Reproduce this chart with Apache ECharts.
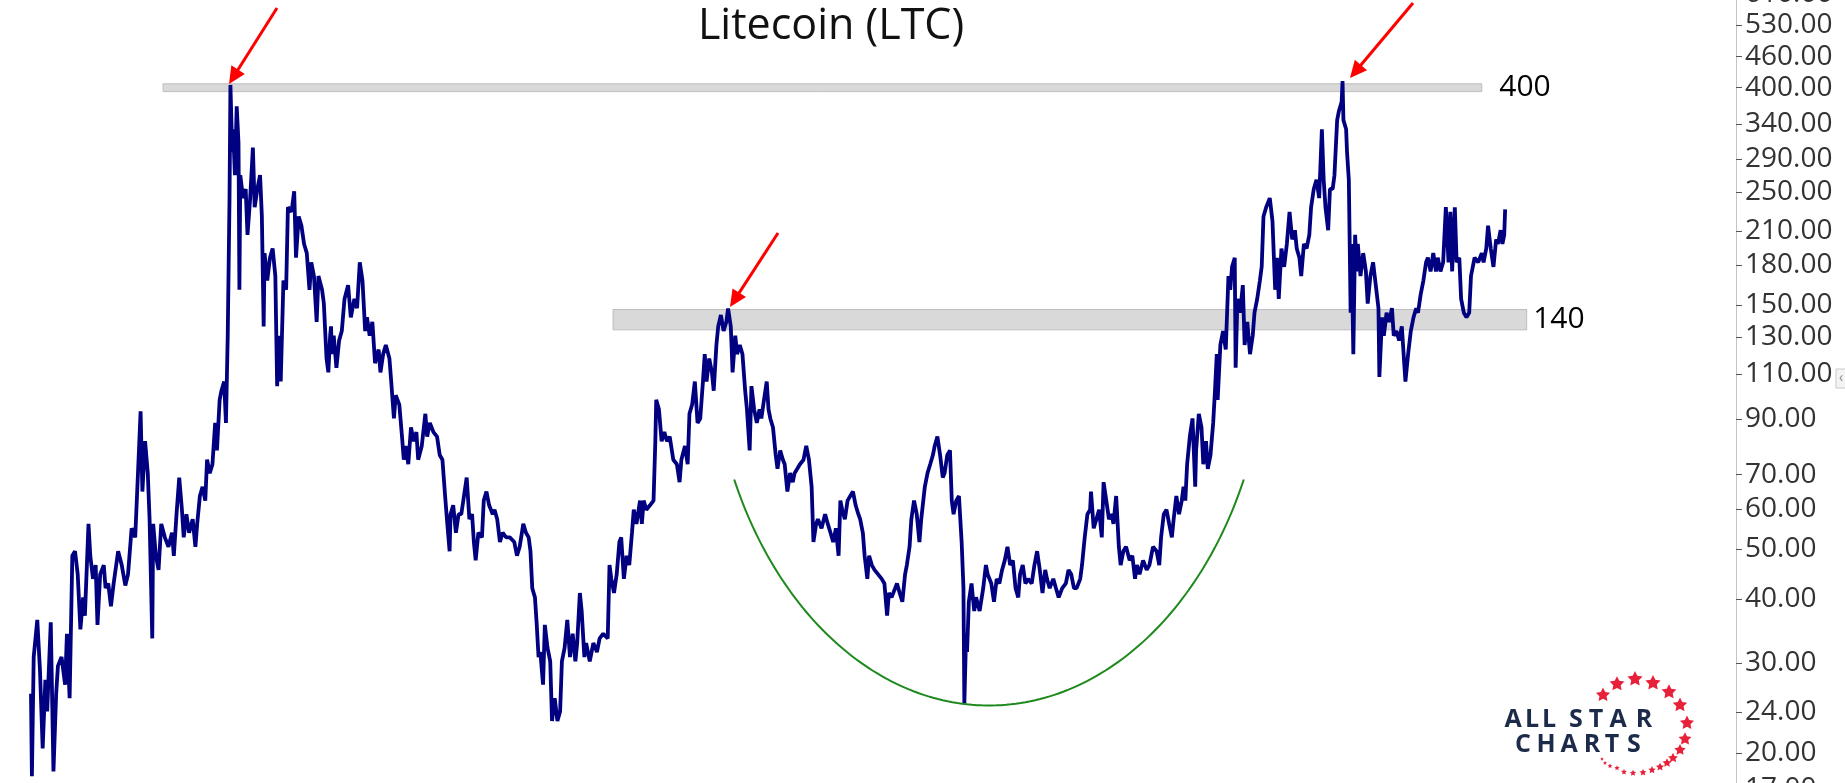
<!DOCTYPE html>
<html>
<head>
<meta charset="utf-8">
<script src="https://cdn.jsdelivr.net/npm/echarts@6/dist/echarts.min.js"></script>
<style>
  html, body { margin: 0; padding: 0; background: #fff; overflow: hidden; }
  /* chart is a bit taller than the window so the edge tick labels get cut like in the source */
  #main { position: absolute; left: 0; top: -20px; width: 1845px; height: 823px; }
</style>
</head>
<body>
<div id="main"></div>
<script>
// price history, [day since start, close]
var rally2017 = [[0,26.1],[1,18.0],[3,30.8],[7,36.4],[10,29.0],[13,20.4],[16,27.8],[18,24.1],[22,36.0],[25,18.4],[28,26.1],[30,29.6],[34,30.8],[38,27.2],[40,34.2],[43,25.6],[46,48.6],[49,49.6],[52,44.7],[55,34.9],[58,40.3],[60,37.1],[64,56.1],[66,48.6],[69,43.8],[72,46.6],[74,35.6],[77,44.7],[81,46.6],[83,42.0],[86,42.9],[89,38.7],[92,42.9],[97,49.6],[101,46.6],[105,42.5],[108,44.7],[112,55.0],[116,52.8],[118,63.6],[122,93.1],[124,64.9],[127,81.4],[130,70.5],[132,57.3],[135,33.5],[136,56.1],[139,48.6],[142,45.6],[145,56.1],[149,52.8],[153,50.6],[157,53.9],[159,48.6],[162,58.6],[165,69.1],[168,59.8],[170,52.8],[173,58.6],[176,53.9],[180,57.3],[183,50.6],[185,56.1],[188,63.6],[191,66.3],[194,62.3],[196,74.9],[199,70.5],[202,73.4],[205,88.4],[207,78.1],[210,98.1],[212,102.2],[215,106.5],[217,88.4],[219,130.9],[220,178.5],[221,243.3],[222,405],[224,299.1],[225,331.6],[227,269.7],[229,367.7],[231,311.7],[232,161.0],[233,269.7],[236,243.3],[239,253.5],[241,206.2],[244,243.3],[247,305.3],[249,233.5],[252,253.5],[255,269.7],[257,224.0],[259,136.5],[260,189.9],[263,167.8],[266,186.0],[269,193.9],[272,171.3],[274,104.3],[276,130.9],[278,106.5],[281,167.8],[284,161.0],[286,233.5],[290,228.7],[293,250.9],[295,186.0],[298,224.0],[301,214.9],[304,197.9],[307,189.9],[310,161.0],[312,182.2],[315,171.3],[318,139.3],[320,171.3],[324,161.0],[326,151.3],[329,118.1],[331,111.0],[333,130.9]];

var bear2018 = [[334,136.5],[335,120.5],[337,130.9],[340,113.3],[343,128.2],[346,133.7],[349,154.5],[353,164.4],[356,142.2],[360,154.5],[363,148.2],[366,182.2],[369,167.8],[372,133.7],[374,142.2],[377,130.9],[380,139.3],[383,115.7],[387,123.0],[389,111.0],[392,120.5],[395,125.6],[399,118.1],[401,106.5],[404,90.2],[406,100.1],[410,96.0],[413,83.1],[415,74.9],[417,79.7],[420,73.4],[423,86.6],[426,81.4],[429,84.8],[431,74.9],[435,79.7],[439,92.1],[441,83.1],[444,88.4],[448,84.8],[452,83.1],[455,76.5],[458,74.9],[461,63.6],[463,57.3],[466,49.6],[467,58.6],[470,61.0],[473,53.9],[476,58.6],[479,58.6],[482,63.6],[485,69.1],[488,57.3],[491,58.6],[493,51.7],[495,47.6],[498,53.9],[502,52.8],[504,62.3],[507,64.9],[510,61.0],[514,58.6],[516,59.8],[519,57.3],[522,51.7],[525,53.9],[529,52.8],[533,52.8],[538,51.7],[541,48.6],[544,50.6],[548,56.1],[551,53.9],[554,52.8],[556,49.6],[558,42.0],[561,40.3],[563,35.6],[565,30.8],[567,31.5],[570,27.2],[572,35.6],[575,32.1],[578,30.2],[580,23.1],[583,25.6],[586,23.1],[589,24.1],[591,30.2],[594,32.1],[597,36.4],[600,30.8],[603,34.2],[606,30.2],[608,32.8],[611,41.1],[613,37.9],[616,30.8],[618,32.8],[622,30.2],[626,32.8],[630,31.5],[633,33.5],[637,34.2],[642,33.5],[644,46.6],[646,43.8],[649,41.1],[652,44.7],[655,51.7],[657,52.8],[660,43.8],[663,48.6],[666,46.6],[669,53.9],[671,59.8],[674,56.1],[678,62.3]];

var bounce2019 = [[680,56.1],[682,62.3],[685,59.8],[689,61.0],[693,62.3],[695,81.4],[696,98.1],[699,94.0],[702,81.4],[705,84.8],[708,81.4],[711,83.1],[715,74.9],[719,73.4],[722,67.7],[724,74.9],[728,79.7],[731,73.4],[733,92.1],[736,96.0],[739,106.5],[742,88.4],[745,90.2],[748,106.5],[750,120.5],[752,106.5],[755,118.1],[758,111.0],[760,102.2],[763,125.6],[765,136.5],[768,143.7],[771,133.7],[774,139.3],[776,148],[779,136.5],[781,111.0],[784,130.9],[786,120.5],[789,125.6],[792,120.5],[795,102.2],[797,94.0],[800,78.1],[802,104.3],[805,94.0],[808,88.4],[811,94.0],[813,90.2],[816,98.1],[819,106.5],[821,94.0],[823,90.2],[826,86.6],[829,76.5],[831,71.9],[834,78.1],[837,74.9],[839,73.4],[842,64.9],[845,70.5],[848,67.7],[850,70.5],[853,71.9],[856,73.4],[860,74.9],[863,79.7],[866,74.9],[869,66.3],[871,51.7],[874,56.1],[876,57.3],[880,55.0],[884,58.6],[887,56.1],[890,53.9],[893,51.7],[896,55.0],[899,48.6],[901,62.3],[903,59.8],[906,57.3],[909,62.3],[912,63.6],[915,64.9],[918,61.0],[921,58.6],[923,57.3],[926,53.9],[928,48.6],[931,43.8],[933,48.6],[936,46.6],[939,45.6],[943,44.7],[947,43.8],[950,42.9],[953,37.1],[955,41.1],[958,40.3],[962,42.0],[964,42.9],[967,41.1],[970,39.5],[973,44.7],[975,46.6],[978,50.6],[980,57.3],[983,62.3],[986,58.6],[989,51.7],[991,57.3],[995,66.3],[998,70.5],[1001,73.4],[1004,76.5],[1006,79.7],[1009,83.1],[1012,76.5],[1015,69.1],[1017,70.5],[1020,76.5]];

var base2020 = [[1023,78.1],[1025,62.3],[1027,58.6],[1030,62.3],[1033,63.6],[1036,51.7],[1038,42.0],[1039,25.0],[1041,34.2],[1042,31.5],[1044,39.5],[1047,42.9],[1050,37.9],[1052,40.3],[1056,37.9],[1060,42.0],[1063,46.6],[1065,44.7],[1069,42.9],[1072,39.5],[1075,43.8],[1078,42.9],[1081,45.6],[1084,47.6],[1087,50.6],[1090,46.6],[1093,47.6],[1096,42.0],[1099,40.3],[1101,44.7],[1104,46.6],[1107,42.9],[1110,43.8],[1114,42.9],[1117,46.6],[1120,49.6],[1123,45.6],[1126,41.1],[1129,45.6],[1131,43.8],[1134,42.0],[1138,43.8],[1141,42.0],[1144,40.3],[1148,42.0],[1152,42.9],[1155,45.6],[1158,44.7],[1161,42.0],[1164,42.0],[1168,43.8],[1170,46.6],[1173,52.8],[1176,58.6],[1179,59.8],[1180,64.9],[1183,55.0],[1186,57.3],[1189,59.8],[1192,52.8],[1194,67.7],[1197,62.3],[1200,57.3],[1203,58.6],[1205,56.1],[1208,63.6],[1211,50.6],[1213,46.6],[1216,49.6],[1219,50.6],[1223,47.6],[1226,48.6],[1229,43.8],[1231,46.6],[1234,44.7],[1238,47.6],[1242,45.6],[1245,46.6],[1249,50.6],[1253,49.6],[1256,46.6],[1258,52.8],[1261,58.6],[1264,59.8],[1267,56.1],[1270,52.8],[1272,57.3],[1275,63.6],[1278,58.6],[1281,62.3],[1283,66.3],[1285,62.3],[1287,73.4],[1290,83.1],[1293,90.2],[1296,66.3],[1297,78.1],[1300,92.1],[1303,86.6],[1305,73.4],[1308,81.4],[1310,71.9],[1313,76.5],[1316,88.4],[1318,102.2],[1320,120.5],[1321,98.1],[1324,125.6],[1327,133.7],[1330,123.0],[1333,171.3],[1335,161.0],[1337,178.5],[1340,186.0],[1341,113.3],[1343,154.5],[1346,145.2],[1349,164.4],[1351,125.6],[1354,139.3],[1357,120.5],[1360,130.9],[1362,145.2],[1365,154.5],[1368,167.8]];

var run2021 = [[1370,178.5],[1372,224.0],[1375,233.5],[1379,243.3],[1382,219.4],[1385,161.0],[1387,186.0],[1389,154.5],[1392,193.9],[1395,178.5],[1398,197.9],[1401,228.7],[1404,202.0],[1407,210.5],[1409,193.9],[1412,186.0],[1414,171.3],[1417,197.9],[1420,193.9],[1423,206.2],[1425,233.5],[1428,253.5],[1431,264.2],[1434,243.3],[1437,331.6],[1439,264.2],[1441,233.5],[1444,210.5],[1446,253.5],[1449,253.5],[1451,269.7],[1454,345.6],[1456,360.2],[1459,375.3],[1460,412],[1461,345.6],[1464,331.6],[1465,299.1],[1467,264.2],[1469,145.2],[1470,197.9],[1472,120.5],[1474,206.2],[1476,174.9],[1477,197.9],[1480,171.3],[1483,189.9],[1486,174.9],[1488,151.3],[1491,171.3],[1494,182.2],[1497,164.4],[1500,148.2],[1501,108.7],[1504,142.2],[1506,130.9],[1509,145.2],[1512,139.3],[1515,148.2],[1517,130.9],[1520,133.7],[1523,128.2],[1526,136.5],[1528,120.5],[1530,106.5],[1533,120.5],[1536,133.7],[1539,142.2],[1542,148.2],[1544,145.2],[1547,157.7],[1550,167.8],[1553,182.2],[1555,186.0],[1558,174.9],[1561,189.9],[1564,174.9],[1566,186.0],[1569,174.9],[1572,182.2],[1575,233.5],[1578,182.2],[1580,228.7],[1582,174.9],[1585,233.5],[1587,182.2],[1590,186.0],[1592,154.5],[1595,145.2],[1598,142.2],[1601,145.2],[1603,171.3],[1607,186.0],[1611,182.2],[1615,189.9],[1617,182.2],[1620,193.9],[1622,214.9],[1625,193.9],[1628,178.5],[1631,202.0],[1633,197.9],[1636,210.5],[1638,197.9],[1640,206.2],[1641,231.3]];

var priceTicks = [17, 20, 24, 30, 40, 50, 60, 70, 90, 110, 130, 150, 180, 210, 250, 290, 340, 400, 460, 530, 610];

// resistance zones: [startDay, endDay, low, high, label]
var zoneTop = [147, 1615, 393, 407, '400'];
var zoneMid = [648, 1665, 134.4, 147.3, '140'];

var chart = echarts.init(document.getElementById('main'));

var navy = '#000080';
var OFF = 20; // the chart div starts 20px above the window

function starPts(cx, cy, r) {
    var pts = [];
    for (var i = 0; i < 10; i++) {
        var a = -Math.PI / 2 + i * Math.PI / 5;
        var rr = i % 2 ? r * 0.5 : r;
        pts.push([cx + rr * Math.cos(a), cy + OFF + rr * Math.sin(a)]);
    }
    return pts;
}

function arrow(tail, tip) {
    var t0 = [tail[0], tail[1] + OFF], t1 = [tip[0], tip[1] + OFF];
    var dx = t1[0] - t0[0], dy = t1[1] - t0[1];
    var len = Math.sqrt(dx * dx + dy * dy);
    var ux = dx / len, uy = dy / len;
    var hl = 17, hw = 8;
    var bx = t1[0] - ux * hl, by = t1[1] - uy * hl;
    return [
        { type: 'line', shape: { x1: t0[0], y1: t0[1], x2: bx + ux * 2, y2: by + uy * 2 },
          style: { stroke: '#ff0000', lineWidth: 3 }, z: 20 },
        { type: 'polygon', shape: { points: [t1, [bx - uy * hw, by + ux * hw], [bx + uy * hw, by - ux * hw]] },
          style: { fill: '#ff0000' }, z: 20 }
    ];
}

// green cup (lower part of an ellipse)
var cupPts = [];
for (var t = 24.5; t <= 155.5; t += 1) {
    var a = t * Math.PI / 180;
    cupPts.push([989 + 280 * Math.cos(a), 319.4 + OFF + 386.1 * Math.sin(a)]);
}

var graphics = [];
graphics.push({
    type: 'text', x: 831, y: 27 + OFF, z: 20,
    style: { text: 'Litecoin (LTC)', fill: '#111', font: '43px "Open Sans"', align: 'center', verticalAlign: 'middle' }
});
graphics = graphics.concat(arrow([277, 8], [229, 84]));
graphics = graphics.concat(arrow([778, 233], [730, 307]));
graphics = graphics.concat(arrow([1413, 3], [1350, 78]));
graphics.push({
    type: 'polyline', shape: { points: cupPts }, z: 15,
    style: { stroke: '#1e8a1e', lineWidth: 2, fill: null }
});

// logo
var logoRow1 = [['A', 1513], ['L', 1532], ['L', 1549], ['S', 1576], ['T', 1596], ['A', 1618], ['R', 1644]];
var logoRow2 = [['C', 1523], ['H', 1546], ['A', 1569], ['R', 1592], ['T', 1612], ['S', 1634]];
logoRow1.forEach(function (l) {
    graphics.push({ type: 'text', x: l[1], y: 719.5 + OFF, z: 20,
        style: { text: l[0], fill: '#1c2b4a', font: 'bold 25px "Open Sans"', align: 'center', verticalAlign: 'middle' } });
});
logoRow2.forEach(function (l) {
    graphics.push({ type: 'text', x: l[1], y: 744.5 + OFF, z: 20,
        style: { text: l[0], fill: '#1c2b4a', font: 'bold 25px "Open Sans"', align: 'center', verticalAlign: 'middle' } });
});
var stars = [[1603,695,7.5],[1617,684,7.8],[1635,679,8],[1653,683,8],[1669,692,7.8],[1680,705,7.6],[1687,723,7.4],[1685,739,6.8],[1680,750,6],[1673,758,5.2],[1667,763,4.7],[1660,767,4.2],[1652,770,3.9],[1643,772.5,3.6],[1633,773,3.3],[1624,772,3],[1617,768,2.7],[1610,766,2.4],[1605,763,2.1],[1602,759,1.8]];
stars.forEach(function (s) {
    graphics.push({ type: 'polygon', z: 20, shape: { points: starPts(s[0], s[1], s[2]) }, style: { fill: '#e8213a' } });
});
// little scroll handle at the right edge
graphics.push({ type: 'rect', z: 20, shape: { x: 1836, y: 369 + OFF, width: 12, height: 19 },
    style: { fill: '#f4f4f4', stroke: '#c8c8c8', lineWidth: 1 } });
graphics.push({ type: 'text', z: 21, x: 1841, y: 378 + OFF, style: { text: '‹', fill: '#888', font: '14px "Open Sans"', align: 'center', verticalAlign: 'middle' } });

function zone(z, dist) {
    return [
        { name: z[4], xAxis: z[0], yAxis: z[2],
          label: { show: true, position: 'right', distance: dist, formatter: z[4], color: '#000', fontSize: 30, fontFamily: 'Open Sans' } },
        { xAxis: z[1], yAxis: z[3] }
    ];
}

var option = {
    backgroundColor: '#fff',
    animation: false,
    grid: { left: 31, right: 109, top: 0, bottom: 0, containLabel: false },
    xAxis: { type: 'value', min: 0, max: 1898, show: false },
    yAxis: {
        type: 'log',
        position: 'right',
        min: 16.125,
        max: 646,
        axisLine: { show: true, onZero: false, lineStyle: { color: '#c4c4c4', width: 1 } },
        axisTick: { show: true, length: 6, customValues: priceTicks, lineStyle: { color: '#555' } },
        axisLabel: {
            customValues: priceTicks,
            margin: 9,
            color: '#333',
            fontSize: 28,
            fontFamily: 'Open Sans',
            formatter: function (v) { return Number(v).toFixed(2); }
        },
        splitLine: { show: false }
    },
    series: [
        {
            name: 'LTC',
            type: 'line',
            data: rally2017.concat(bear2018, bounce2019, base2020, run2021),
            showSymbol: false,
            lineStyle: { color: navy, width: 3.8 },
            z: 2
        },
        {
            name: 'zones',
            type: 'line',
            data: [],
            z: 5,
            markArea: {
                silent: true,
                itemStyle: { color: 'rgba(170,170,170,0.45)', borderColor: '#bdbdbd', borderWidth: 1 },
                data: [zone(zoneTop, 17), zone(zoneMid, 6)]
            }
        }
    ],
    graphic: graphics
};

chart.setOption(option);
</script>
</body>
</html>
